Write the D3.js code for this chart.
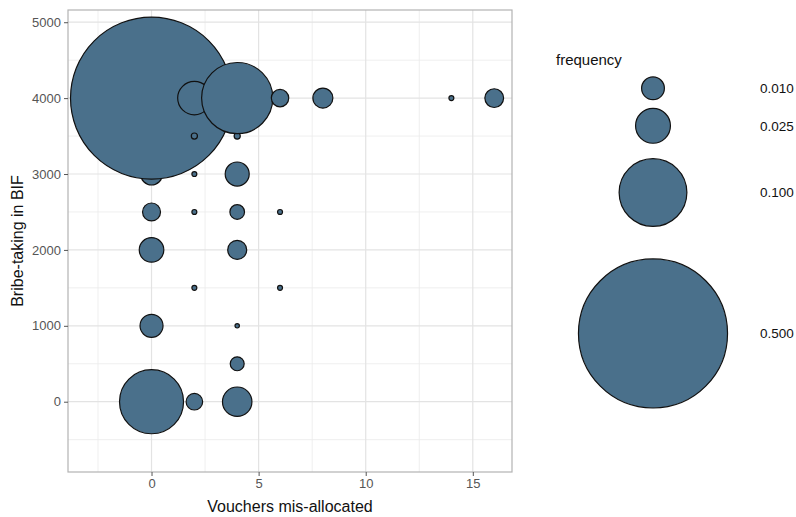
<!DOCTYPE html>
<html><head><meta charset="utf-8">
<script src="https://cdn.jsdelivr.net/npm/d3@7"></script>
<style>body{margin:0;background:#fff}svg{display:block}text{font-family:"Liberation Sans",Arial,sans-serif}</style>
</head><body><svg id="c" width="796" height="517"></svg>
<script>
// data: vouchers mis-allocated (x), bribe-taking in BIF (y), frequency (size)
const xs = [0,0,0,0,0,0, 2,2,2,2,2,2, 4,4,4,4,4,4,4,4, 6,6,6, 8, 14, 16];
const ys = [0,1000,2000,2500,3000,4000, 0,1500,2500,3000,3500,4000, 0,500,1000,2000,2500,3000,3500,4000, 1500,2500,4000, 4000, 4000, 4000];
const freq = [0.089,0.0102,0.0118,0.0059,0.0092,0.592, 0.0049,0.0002,0.0002,0.0002,0.0004,0.0228, 0.0174,0.0033,0.00013,0.0067,0.0037,0.0112,0.0004,0.1107, 0.0002,0.0002,0.0055, 0.0075, 0.0002, 0.0065];
const xTicks = [0,5,10,15];
const yTicks = [0,1000,2000,3000,4000,5000];
const legendValues = [0.010,0.025,0.100,0.500];
const legendLabels = ["0.010","0.025","0.100","0.500"];

const svg = d3.select("#c");
const L=68, R=512, T=10, B=472;
const x = d3.scaleLinear().domain([-3.9,16.83]).range([L,R]);
const y = d3.scaleLinear().domain([-926,5161]).range([B,T]);
const r = d3.scaleSqrt().domain([0,1]).range([1,105]);
const fillC = "#4a708b";

const data = xs.map((v,i)=>({x:v,y:ys[i],f:freq[i]}))
  .sort((a,b)=>a.x-b.x || a.y-b.y);

// grid
const g = svg.append("g");
const xMinor = [-2.5,2.5,7.5,12.5];
const yMinor = [-500,500,1500,2500,3500,4500];
g.selectAll(".xm").data(xMinor).join("line").attr("x1",d=>x(d)).attr("x2",d=>x(d)).attr("y1",T).attr("y2",B).attr("stroke","#ebebeb").attr("stroke-width",0.8);
g.selectAll(".ym").data(yMinor).join("line").attr("y1",d=>y(d)).attr("y2",d=>y(d)).attr("x1",L).attr("x2",R).attr("stroke","#ebebeb").attr("stroke-width",0.8);
g.selectAll(".xM").data(xTicks).join("line").attr("x1",d=>x(d)).attr("x2",d=>x(d)).attr("y1",T).attr("y2",B).attr("stroke","#e3e3e3").attr("stroke-width",1.2);
g.selectAll(".yM").data(yTicks).join("line").attr("y1",d=>y(d)).attr("y2",d=>y(d)).attr("x1",L).attr("x2",R).attr("stroke","#e3e3e3").attr("stroke-width",1.2);

// points
svg.append("g").selectAll("circle").data(data).join("circle")
  .attr("cx",d=>x(d.x)).attr("cy",d=>y(d.y)).attr("r",d=>r(d.f))
  .attr("fill",fillC).attr("stroke","#111").attr("stroke-width",1.2);

// border
svg.append("rect").attr("x",L).attr("y",T).attr("width",R-L).attr("height",B-T).attr("fill","none").attr("stroke","#b3b3b3").attr("stroke-width",1.2);

// axes
const xa = svg.append("g").attr("transform",`translate(0,${B})`).call(d3.axisBottom(x).tickValues(xTicks).tickSize(4).tickPadding(3));
const ya = svg.append("g").attr("transform",`translate(${L},0)`).call(d3.axisLeft(y).tickValues(yTicks).tickSize(4).tickPadding(3).tickFormat(d3.format("d")));
[xa,ya].forEach(a=>{a.select(".domain").remove();a.selectAll(".tick line").attr("stroke","#555");a.selectAll(".tick text").attr("fill","#555").style("font-size","13px").style("font-family","'Liberation Sans',Arial,sans-serif");});

svg.append("text").attr("x",(L+R)/2).attr("y",512).attr("text-anchor","middle").style("font-size","16px").attr("fill","#111").text("Vouchers mis-allocated");
svg.append("text").attr("transform",`translate(23,${(T+B)/2}) rotate(-90)`).attr("text-anchor","middle").style("font-size","16px").attr("fill","#111").text("Bribe-taking in BIF");

// legend
const lg = svg.append("g");
lg.append("text").attr("x",556).attr("y",65).style("font-size","15px").attr("fill","#111").text("frequency");
let cy = 88.3 - r(legendValues[0])*1.3;
legendValues.forEach((v,i)=>{
  const rr = r(v);
  cy += rr*1.3;
  lg.append("circle").attr("cx",653).attr("cy",cy).attr("r",rr).attr("fill",fillC).attr("stroke","#111").attr("stroke-width",1.2);
  lg.append("text").attr("x",760).attr("y",cy).attr("dy","0.35em").style("font-size","13.5px").attr("fill","#111").text(legendLabels[i]);
  cy += rr*1.3;
});
</script></body></html>
